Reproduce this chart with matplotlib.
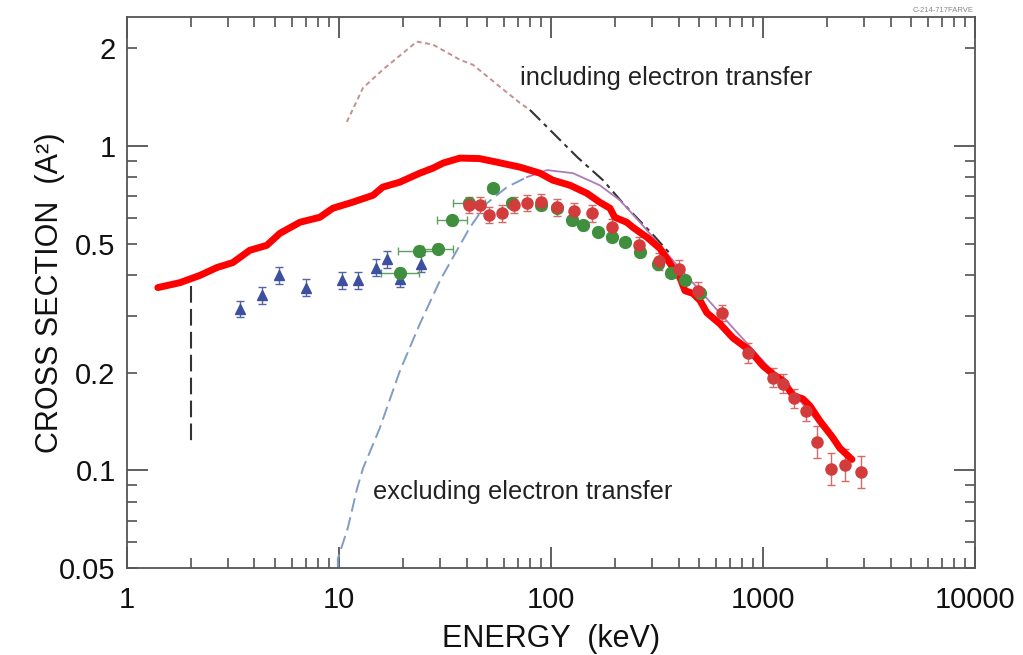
import numpy as np
import matplotlib
matplotlib.use("Agg")
import matplotlib.pyplot as plt
from matplotlib.ticker import FixedLocator, FuncFormatter, LogLocator

plt.rcParams['font.family'] = ['Liberation Sans', 'DejaVu Sans']

# thick red curve
red_x = [1.40, 1.78, 2.21, 2.66, 3.16, 3.80, 4.57, 5.27, 6.55, 8.13, 9.37, 11.6, 14.5, 16.1, 19.4,
         24.1, 27.8, 31.0, 37.2, 46.0, 55.6, 71.4, 88.7, 102, 123, 148, 170, 190, 200, 228, 244,
         284, 327, 352, 376, 406, 429, 468, 505, 544, 627, 722, 868, 1000, 1115, 1243, 1386,
         1544, 1667, 1857, 2138, 2307, 2630]
red_y = [0.366, 0.379, 0.399, 0.422, 0.437, 0.477, 0.494, 0.538, 0.582, 0.603, 0.643, 0.671, 0.705,
         0.747, 0.774, 0.825, 0.855, 0.886, 0.918, 0.915, 0.892, 0.861, 0.825, 0.785, 0.757, 0.715,
         0.671, 0.643, 0.603, 0.582, 0.561, 0.523, 0.483, 0.450, 0.422, 0.393, 0.358, 0.351, 0.334,
         0.306, 0.283, 0.256, 0.234, 0.210, 0.198, 0.189, 0.170, 0.166, 0.158, 0.142, 0.126, 0.117,
         0.108]

# "including electron transfer" dotted curve
incl_x = [10.9, 13.0, 16.1, 23.3, 27.8, 37.2, 42.9, 57.5, 71.4, 79.6]
incl_y = [1.187, 1.512, 1.719, 2.099, 2.055, 1.846, 1.781, 1.523, 1.359, 1.293]

# black dash-dot continuation
blk_x = [79.6, 133, 176, 219, 299, 364]
blk_y = [1.293, 0.925, 0.785, 0.666, 0.538, 0.466]

# "excluding electron transfer" dashed curve
excl_x = [9.89, 9.89, 11.0, 12.2, 13.0, 15.6, 19.4, 24.1, 30.0, 34.5, 41.5, 49.9, 62.0, 77.1]
excl_y = [0.050, 0.0534, 0.0661, 0.0880, 0.1014, 0.135, 0.2025, 0.283, 0.385, 0.453, 0.561,
          0.666, 0.747, 0.802]

# thin magenta curve
mag_x = [77.1, 95.8, 127, 170, 212, 263, 327, 406, 505, 722, 1045, 1495, 2070, 2572]
mag_y = [0.802, 0.843, 0.825, 0.757, 0.680, 0.582, 0.494, 0.419, 0.358, 0.275, 0.211, 0.164,
         0.127, 0.110]

# vertical dashed marker at 2 keV
vline_x = 2.0
vline_y = [0.371, 0.119]

# blue triangles
blue_x = [3.41, 4.33, 5.21, 6.99, 10.4, 12.3, 14.9, 16.8, 19.4, 24.4]
blue_y = [0.315, 0.346, 0.399, 0.366, 0.385, 0.385, 0.422, 0.447, 0.390, 0.434]
blue_err = 0.06

# green points (relative x spread)
green_x = [19.4, 23.8, 29.3, 34.1, 41.1, 53.3, 65.5, 89.7, 107, 126, 142, 167, 194, 223, 263,
           320, 368, 429, 505]
green_y = [0.407, 0.473, 0.483, 0.590, 0.666, 0.741, 0.666, 0.657, 0.643, 0.590, 0.569, 0.542,
           0.523, 0.505, 0.470, 0.434, 0.407, 0.385, 0.353]
green_xf = [1.23, 1.25, 1.18, 1.18, 1.19, 1.06, 1.06, 1.06, 1.06, 1.05, 1.05, 1.05, 1.05, 1.05,
            1.05, 1.05, 1.05, 1.05, 1.05]
green_err = 0.03

# red circles
pts_x = [41.1, 46.2, 51.0, 58.7, 66.9, 77.1, 89.7, 107, 128, 156, 194, 260, 323, 402, 494, 641,
         850, 1115, 1243, 1401, 1595, 1798, 2093, 2436, 2898]
pts_y = [0.657, 0.657, 0.612, 0.620, 0.657, 0.666, 0.671, 0.647, 0.629, 0.620, 0.561, 0.494,
         0.441, 0.419, 0.358, 0.306, 0.230, 0.193, 0.185, 0.167, 0.152, 0.122, 0.101, 0.104,
         0.0986]
pts_err = [0.06, 0.06, 0.06, 0.06, 0.06, 0.06, 0.06, 0.06, 0.06, 0.06, 0.06, 0.06, 0.06, 0.06,
           0.06, 0.06, 0.07, 0.07, 0.07, 0.07, 0.07, 0.12, 0.12, 0.12, 0.12]

fig = plt.figure(figsize=(10.23, 6.55), dpi=100)
ax = fig.add_axes([0.124, 0.133, 0.829, 0.841])
ax.set_xscale('log')
ax.set_yscale('log')
ax.set_xlim(1, 10000)
ax.set_ylim(0.05, 2.5)

ax.plot(incl_x, incl_y, color='#c49090', lw=1.4, linestyle=(0, (2.5, 1.8)))
ax.plot(blk_x, blk_y, color='#333333', lw=1.5, linestyle=(0, (7, 2.5, 2, 2.5)))
ax.plot(excl_x, excl_y, color='#7f9cc4', lw=1.4, linestyle=(0, (7, 3)))
ax.plot(mag_x, mag_y, color='#b07ab8', lw=1.3)
ax.plot([vline_x, vline_x], vline_y, color='#333333', lw=1.5, linestyle=(0, (8, 3)))

by = np.array(blue_y)
ax.errorbar(blue_x, blue_y, yerr=[by - by / (1 + blue_err), by * blue_err],
            fmt='^', color='#3d4f9f', ms=7, ecolor='#5565a8', elinewidth=1, capsize=3)

gx = np.array(green_x)
gf = np.array(green_xf)
gy = np.array(green_y)
ax.errorbar(green_x, green_y, xerr=[gx - gx / gf, gx * gf - gx],
            yerr=[gy - gy / (1 + green_err), gy * green_err],
            fmt='o', color='#3f8f3f', ms=8.5, ecolor='#5f9f5f', elinewidth=1, capsize=3)

py = np.array(pts_y)
pe = np.array(pts_err)
ax.errorbar(pts_x, pts_y, yerr=[py - py / (1 + pe), py * pe],
            fmt='o', color='#d23c3c', ms=8, ecolor='#d46a6a', elinewidth=1, capsize=3)

ax.plot(red_x, red_y, color='#ff0000', lw=5, solid_joinstyle='round', solid_capstyle='round')

ax.text(71.4, 1.62, 'including electron transfer', fontsize=18.3, color='#222222',
        ha='left', va='center')
ax.text(14.5, 0.086, 'excluding electron transfer', fontsize=18.3, color='#222222',
        ha='left', va='center')

# ticks
ax.xaxis.set_major_locator(LogLocator(base=10, numticks=10))
ax.xaxis.set_minor_locator(LogLocator(base=10, subs=np.arange(2, 10), numticks=10))
ax.xaxis.set_major_formatter(FuncFormatter(lambda v, p: '%g' % v))
ax.xaxis.set_minor_formatter(FuncFormatter(lambda v, p: ''))

ylab = [0.05, 0.2, 0.5, 2]
ax.yaxis.set_major_locator(FixedLocator([0.1, 1]))
ax.yaxis.set_minor_locator(FixedLocator([0.05, 0.06, 0.07, 0.08, 0.09, 0.2, 0.3, 0.4, 0.5,
                                         0.6, 0.7, 0.8, 0.9, 2]))
ax.yaxis.set_major_formatter(FuncFormatter(lambda v, p: '%g' % v))
ax.yaxis.set_minor_formatter(FuncFormatter(
    lambda v, p: ('%g' % v) if any(abs(v - t) < 1e-9 for t in ylab) else ''))

ax.tick_params(which='both', direction='in', top=True, right=True, color='#444444',
               labelsize=21, labelcolor='#111111')
ax.tick_params(axis='x', which='both', pad=13)
ax.tick_params(axis='y', which='both', pad=8)
ax.tick_params(which='major', length=15, width=1.2)
ax.tick_params(which='minor', length=7.5, width=1.1)
for s in ax.spines.values():
    s.set_color('#555555')
    s.set_linewidth(1.3)

ax.set_xlabel('ENERGY  (keV)', fontsize=22, color='#111111', labelpad=7)
ax.set_ylabel('CROSS SECTION  (A²)', fontsize=22, color='#111111', labelpad=-4)

fig.text(0.952, 0.984, 'C-214-717FARVE', fontsize=5.5, color='#888888', ha='right', va='center')

fig.savefig('out.png', dpi=100)
